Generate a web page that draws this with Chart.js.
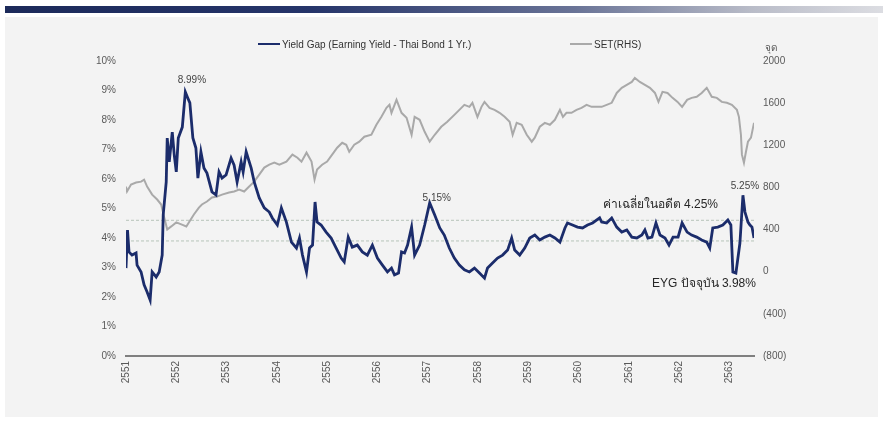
<!DOCTYPE html>
<html><head><meta charset="utf-8">
<script src="https://cdn.jsdelivr.net/npm/chart.js@4"></script>
<style>
html,body{margin:0;padding:0;width:883px;height:423px;overflow:hidden;background:#fff;}
#bar{position:absolute;left:5px;top:6px;width:878px;height:7px;background:linear-gradient(to right,#1c2a5a 0%,#26356a 35%,#6a7497 65%,#b9bcc8 85%,#dcdde2 100%);}
#panel{position:absolute;left:5px;top:17px;width:873px;height:400px;background:#f3f3f3;}
#c{position:absolute;left:0;top:0;}
.lg{position:absolute;top:39px;font:10px "Liberation Sans Narrow","Liberation Sans",Arial,sans-serif;color:#333;white-space:nowrap;line-height:12px;}
.sw{display:inline-block;width:22px;height:0;vertical-align:middle;margin-right:2px;position:relative;top:-1px;}
#unit{position:absolute;left:765px;top:40px;font:10px "Liberation Sans",Arial,sans-serif;color:#555;}
</style></head>
<body>
<div id="bar"></div>
<div id="panel"></div>
<canvas id="c" width="883" height="423"></canvas>
<div class="lg" style="left:258px"><span class="sw" style="border-top:2.5px solid #1b2c6b"></span>Yield Gap (Earning Yield - Thai Bond 1 Yr.)</div>
<div class="lg" style="left:570px"><span class="sw" style="border-top:2px solid #a9a9a9"></span>SET(RHS)</div>
<div id="unit">จุด</div>
<script>
// ---- DATA ----
const yearLabels = ['2551','2552','2553','2554','2555','2556','2557','2558','2559','2560','2561','2562','2563'];
const rightTickValues = [-800,-400,0,400,800,1200,1600,2000];
const rightTickLabels = ['(800)','(400)','0','400','800','1200','1600','2000'];

const yieldYears = [2551.00,2551.03,2551.06,2551.12,2551.20,2551.22,2551.30,2551.36,2551.42,2551.48,2551.52,2551.60,2551.66,2551.72,2551.74,2551.80,2551.82,2551.86,2551.92,2551.96,
2552.00,2552.04,2552.12,2552.18,2552.22,2552.27,2552.33,2552.39,2552.43,2552.49,2552.55,2552.61,2552.71,2552.79,2552.85,2552.91,2552.99,
2553.09,2553.15,2553.21,2553.29,2553.33,2553.39,2553.49,2553.55,2553.65,2553.75,2553.85,2553.91,
2554.01,2554.09,2554.19,2554.29,2554.39,2554.45,2554.51,2554.59,2554.65,2554.71,2554.76,2554.80,2554.88,2554.98,
2555.08,2555.18,2555.28,2555.34,2555.42,2555.50,2555.60,2555.70,2555.80,2555.90,
2556.00,2556.10,2556.20,2556.28,2556.34,2556.42,2556.48,2556.54,2556.60,2556.68,2556.74,2556.84,2556.94,
2557.04,2557.14,2557.24,2557.33,2557.43,2557.53,2557.63,2557.73,2557.83,2557.93,
2558.03,2558.13,2558.19,2558.29,2558.39,2558.49,2558.59,2558.67,2558.73,2558.83,2558.93,
2559.03,2559.13,2559.23,2559.33,2559.43,2559.53,2559.63,2559.73,2559.78,2559.88,2559.98,
2560.08,2560.18,2560.28,2560.42,2560.46,2560.56,2560.66,2560.76,2560.86,2560.96,
2561.06,2561.16,2561.26,2561.32,2561.38,2561.46,2561.54,2561.62,2561.72,2561.80,2561.88,2561.98,
2562.06,2562.16,2562.25,2562.35,2562.45,2562.55,2562.61,2562.67,2562.77,2562.87,2562.97,
2563.03,2563.07,2563.13,2563.21,2563.27,2563.31,2563.37,2563.41,2563.45,2563.49];
const yieldValues = [2.98,4.27,3.53,3.42,3.49,3.08,2.85,2.41,2.17,1.90,2.85,2.68,2.85,3.42,4.78,5.90,7.39,6.58,7.59,6.81,
6.24,7.39,7.76,8.95,8.78,8.58,7.39,7.05,6.03,6.92,6.37,6.20,5.56,5.46,6.24,6.03,6.14,
6.71,6.47,5.90,6.58,6.24,6.92,6.37,5.90,5.36,5.02,4.88,4.68,
4.44,5.02,4.54,3.86,3.66,4.00,3.42,2.85,3.66,3.76,5.22,4.54,4.44,4.20,
4.00,3.66,3.32,3.19,4.03,3.69,3.76,3.53,3.42,3.76,
3.32,3.08,2.85,2.98,2.75,2.81,3.53,3.49,3.76,4.37,3.42,3.76,4.44,
5.19,4.78,4.34,4.10,3.66,3.32,3.08,2.92,2.85,2.98,
2.81,2.64,2.98,3.15,3.32,3.42,3.59,4.00,3.59,3.42,3.66,
4.00,4.10,3.93,4.03,4.10,4.00,3.86,4.34,4.51,4.44,4.37,
4.34,4.44,4.51,4.68,4.54,4.51,4.68,4.37,4.20,4.27,
4.03,4.00,4.10,4.27,4.00,4.03,4.51,4.10,4.00,3.76,4.03,4.03,
4.51,4.20,4.10,4.03,3.93,3.86,3.66,4.34,4.37,4.44,4.61,
4.44,2.85,2.81,3.83,5.45,4.88,4.54,4.44,4.37,4.00];

const setYears = [2551.00,2551.02,2551.10,2551.20,2551.30,2551.36,2551.42,2551.52,2551.62,2551.70,2551.76,2551.82,2551.90,
2552.00,2552.10,2552.20,2552.25,2552.35,2552.45,2552.51,2552.61,2552.71,2552.81,2552.91,
2553.05,2553.15,2553.25,2553.35,2553.45,2553.55,2553.65,2553.75,2553.85,2553.95,
2554.05,2554.19,2554.31,2554.41,2554.49,2554.59,2554.69,2554.75,2554.80,2554.90,
2555.00,2555.10,2555.20,2555.30,2555.38,2555.44,2555.54,2555.64,2555.74,2555.88,2555.98,
2556.08,2556.18,2556.24,2556.28,2556.38,2556.48,2556.58,2556.68,2556.74,2556.84,2556.94,
2557.04,2557.14,2557.27,2557.39,2557.53,2557.63,2557.73,2557.83,2557.89,2557.99,
2558.07,2558.13,2558.23,2558.33,2558.43,2558.53,2558.63,2558.69,2558.77,2558.87,2558.97,
2559.07,2559.13,2559.23,2559.33,2559.43,2559.53,2559.63,2559.69,2559.76,2559.86,2559.96,
2560.06,2560.16,2560.26,2560.38,2560.46,2560.56,2560.66,2560.76,2560.86,2560.96,
2561.06,2561.12,2561.22,2561.32,2561.42,2561.52,2561.59,2561.67,2561.77,2561.87,2561.97,
2562.06,2562.16,2562.25,2562.35,2562.45,2562.55,2562.65,2562.75,2562.85,2562.95,
2563.05,2563.15,2563.19,2563.23,2563.25,2563.29,2563.33,2563.37,2563.43,2563.49];
const setValues = [808,761,827,846,855,874,808,732,685,638,515,401,430,
468,449,430,468,543,609,638,666,704,713,732,
751,761,780,761,808,855,922,988,1016,1035,
1016,1045,1111,1082,1045,1130,1045,874,969,1016,
1045,1111,1177,1224,1205,1139,1205,1234,1281,1300,1395,
1470,1555,1584,1508,1631,1508,1461,1300,1470,1442,1328,
1234,1300,1376,1423,1489,1536,1584,1565,1603,1470,
1565,1612,1555,1536,1508,1470,1423,1300,1413,1395,1300,
1234,1272,1376,1413,1395,1442,1536,1470,1508,1508,1536,
1555,1584,1565,1565,1565,1584,1603,1697,1745,1773,
1801,1839,1801,1773,1745,1697,1612,1707,1697,1650,1612,
1565,1631,1650,1660,1697,1745,1660,1650,1612,1603,
1584,1536,1470,1300,1111,1035,1139,1234,1272,1413];

const bandUpper = 4.6;
const bandLower = 3.9;

const annotations = [
  {text:'8.99%', x:2552.31, y:9.36, align:'center', kind:'small'},
  {text:'5.15%', x:2557.18, y:5.34, align:'center', kind:'small'},
  {text:'5.25%', x:2563.31, y:5.75, align:'center', kind:'small'},
  {text:'ค่าเฉลี่ยในอดีต 4.25%', x:2560.48, y:5.12, align:'left', kind:'big'},
  {text:'EYG ปัจจุบัน 3.98%', x:2561.46, y:2.44, align:'left', kind:'big'}
];

// ---- CHART ----
const FONT = '"Liberation Sans", Arial, sans-serif';
const xMin = 2551, xMax = 2563.49;
const toPts = (xs, ys) => xs.map((x, i) => ({x: x, y: ys[i]}));

const annotationPlugin = {
  id: 'annot',
  afterDatasetsDraw(chart) {
    const ctx = chart.ctx, xs = chart.scales.x, ys = chart.scales.y;
    ctx.save();
    annotations.forEach(a => {
      if (a.kind === 'small') { ctx.font = '10px ' + FONT; ctx.fillStyle = '#444'; }
      else { ctx.font = '12px ' + FONT; ctx.fillStyle = '#262626'; }
      ctx.textAlign = a.align; ctx.textBaseline = 'middle';
      ctx.fillText(a.text, xs.getPixelForValue(a.x), ys.getPixelForValue(a.y));
    });
    ctx.restore();
  }
};

new Chart(document.getElementById('c'), {
  type: 'line',
  data: {
    datasets: [
      {label: 'Yield Gap (Earning Yield - Thai Bond 1 Yr.)', data: toPts(yieldYears, yieldValues), yAxisID: 'y',
       borderColor: '#1b2c6b', borderWidth: 2.8, pointRadius: 0, tension: 0},
      {label: 'SET(RHS)', data: toPts(setYears, setValues), yAxisID: 'y1',
       borderColor: '#a9a9a9', borderWidth: 2, pointRadius: 0, tension: 0},
      {label: 'upper', data: [{x: xMin, y: bandUpper}, {x: xMax, y: bandUpper}], yAxisID: 'y',
       borderColor: '#b7c4b9', borderWidth: 1, borderDash: [3, 2], pointRadius: 0},
      {label: 'lower', data: [{x: xMin, y: bandLower}, {x: xMax, y: bandLower}], yAxisID: 'y',
       borderColor: '#b7c4b9', borderWidth: 1, borderDash: [3, 2], pointRadius: 0}
    ]
  },
  options: {
    responsive: false, animation: false, events: [],
    layout: {padding: {top: 61, left: 0, right: 0, bottom: 0}},
    plugins: {legend: {display: false}, tooltip: {enabled: false}},
    scales: {
      x: {
        type: 'linear', min: xMin, max: xMax,
        grid: {display: false, drawTicks: false},
        border: {display: true, color: '#7f7f7f', width: 2},
        ticks: {stepSize: 1, includeBounds: false, autoSkip: false, minRotation: 90, maxRotation: 90,
                padding: 5, color: '#595959', font: {family: FONT, size: 10},
                callback: v => yearLabels[Math.round(v - xMin)]},
        afterFit: s => { s.height = 67; }
      },
      y: {
        position: 'left', min: 0, max: 10,
        grid: {display: false, drawTicks: false}, border: {display: false},
        ticks: {stepSize: 1, padding: 10, color: '#595959', font: {family: FONT, size: 10},
                callback: v => v + '%'},
        afterFit: s => { s.width = 126; }
      },
      y1: {
        position: 'right', min: -800, max: 2000,
        grid: {display: false, drawTicks: false}, border: {display: false},
        ticks: {stepSize: 400, padding: 9, color: '#595959', font: {family: FONT, size: 10},
                callback: v => rightTickLabels[rightTickValues.indexOf(v)]},
        afterFit: s => { s.width = 129; }
      }
    }
  },
  plugins: [annotationPlugin]
});
</script>
</body></html>
